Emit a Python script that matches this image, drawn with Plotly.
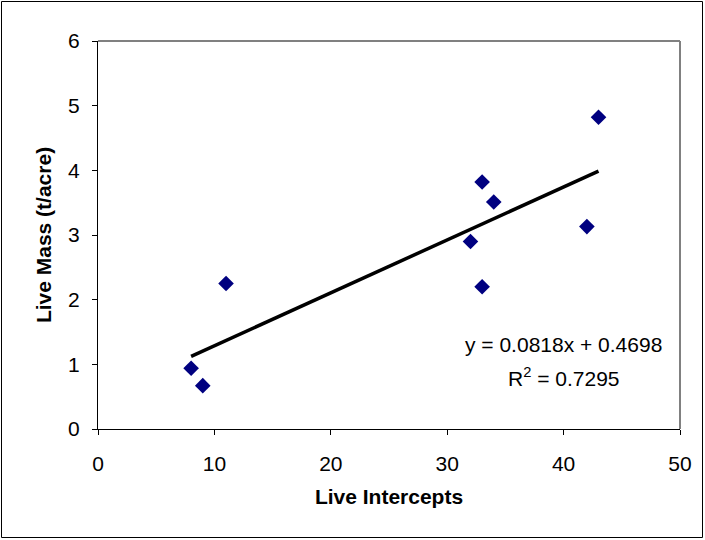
import plotly.graph_objects as go

# Data
live_intercepts = [8, 9, 11, 32, 33, 34, 33, 42, 43]
live_mass = [0.94, 0.67, 2.25, 2.90, 3.82, 3.51, 2.20, 3.13, 4.82]

# Trendline coefficients as displayed on the chart
slope = 0.0818
intercept = 0.4698
r_squared = 0.7295

x_ticks = [0, 10, 20, 30, 40, 50]
y_ticks = [0, 1, 2, 3, 4, 5, 6]

W, H = 705, 540
L, R, T, B = 98, 25, 41, 111
pw, ph = W - L - R, H - T - B

trend_x = [min(live_intercepts), max(live_intercepts)]
trend_y = [slope * v + intercept for v in trend_x]

FONT = "Liberation Sans, Arial, sans-serif"
FS = 21

fig = go.Figure()
fig.add_trace(go.Scatter(
    x=trend_x, y=trend_y, mode="lines",
    line=dict(color="black", width=3.5),
    showlegend=False, hoverinfo="skip"))
fig.add_trace(go.Scatter(
    x=live_intercepts, y=live_mass, mode="markers",
    marker=dict(symbol="diamond", size=12, color="#000080",
                line=dict(width=0)),
    showlegend=False, hoverinfo="x+y"))

fig.update_layout(
    width=W, height=H,
    margin=dict(l=L, r=R, t=T, b=B, pad=0, autoexpand=False),
    paper_bgcolor="white", plot_bgcolor="white",
    font=dict(family=FONT, size=FS, color="black"),
    xaxis=dict(range=[0, 50], tickvals=x_ticks, showgrid=False, zeroline=False,
               showline=True, linecolor="black", linewidth=1,
               ticks="outside", ticklen=5, tickcolor="black",
               tickfont=dict(size=FS), ticklabelstandoff=11,
               title=dict(text="<b>Live Intercepts</b>", font=dict(size=FS), standoff=15)),
    yaxis=dict(range=[0, 6], tickvals=y_ticks, showgrid=False, zeroline=False,
               showline=True, linecolor="black", linewidth=1,
               ticks="outside", ticklen=5, tickcolor="black",
               tickfont=dict(size=FS), ticklabelstandoff=8,
               title=dict(text="<b>Live Mass (t/acre)</b>", font=dict(size=FS), standoff=10)),
    shapes=[
        # plot area border (gray) top and right
        dict(type="line", xref="paper", yref="paper", x0=0, x1=1, y0=1, y1=1,
             line=dict(color="#808080", width=2), layer="below"),
        dict(type="line", xref="paper", yref="paper", x0=1, x1=1, y0=0, y1=1,
             line=dict(color="#808080", width=2), layer="below"),
        # outer chart frame
        dict(type="rect", xref="paper", yref="paper",
             x0=(-L + 1.5) / pw, x1=1 + (R - 2.5) / pw,
             y0=-(B - 2.5) / ph, y1=1 + (T - 1.5) / ph,
             line=dict(color="black", width=1), fillcolor="rgba(0,0,0,0)"),
    ],
    annotations=[
        dict(x=40, y=1.30, xref="x", yref="y", showarrow=False,
             text=f"y = {slope}x + {intercept}", font=dict(size=FS)),
        dict(x=40, y=0.80, xref="x", yref="y", showarrow=False,
             text=f"R<sup>2</sup> = {r_squared}", font=dict(size=FS)),
    ],
)

fig.write_html("out.html", config={"displayModeBar": False},
               post_script="document.body.style.margin='0';document.body.style.overflow='hidden';")
